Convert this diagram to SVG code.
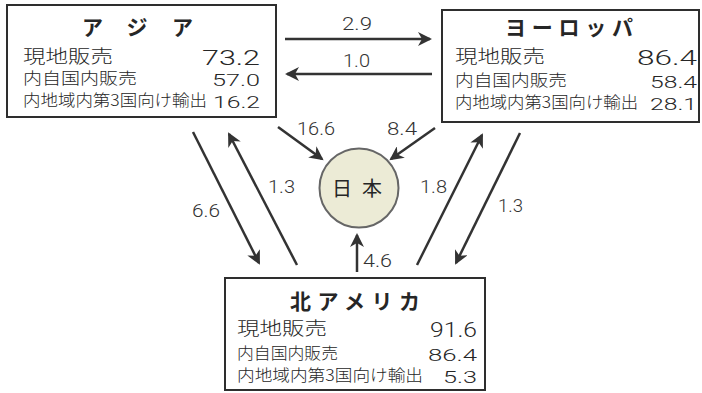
<svg xmlns="http://www.w3.org/2000/svg" width="702" height="393" viewBox="0 0 702 393">
<style>
.box{fill:#ffffff;stroke:#2e2e2e;stroke-width:2}
.t{font-family:"Noto Sans CJK JP","Noto Sans",sans-serif;fill:#262626}
.title{font-size:21px;font-weight:bold}
.r1{font-size:18px;font-weight:300}
.r2{font-size:15.5px;font-weight:300}
.n{font-family:Roboto,"Liberation Sans",sans-serif;font-weight:300;fill:#262626;text-anchor:end}
.num1{font-size:19.5px}
.num2{font-size:17px}
.lbl{font-family:Roboto,"Liberation Sans",sans-serif;font-weight:300;font-size:18px;fill:#333}
.ln{stroke:#333;stroke-width:2.5;fill:none;marker-end:url(#ah)}
</style>
<defs>
<marker id="ah" markerUnits="userSpaceOnUse" markerWidth="16" markerHeight="14" viewBox="0 0 16 14" refX="12" refY="7" orient="auto">
<path d="M0,0 L14,7 L0,14 L4,7 Z" fill="#333"/>
</marker>
</defs>
<rect width="702" height="393" fill="#ffffff"/>

<g id="connectors">
<line class="ln" x1="285" y1="39" x2="430" y2="39"/>
<line class="ln" x1="432" y1="74" x2="287" y2="74"/>
<line class="ln" x1="278" y1="127" x2="322" y2="159"/>
<line class="ln" x1="435" y1="128" x2="391" y2="159"/>
<line class="ln" x1="193" y1="132" x2="259" y2="263"/>
<line class="ln" x1="297" y1="265" x2="229" y2="134"/>
<line class="ln" x1="357" y1="272" x2="357" y2="235"/>
<line class="ln" x1="417" y1="265" x2="482" y2="135"/>
<line class="ln" x1="520" y1="133" x2="456" y2="263"/>
<text class="lbl" x="342" y="30" textLength="30" lengthAdjust="spacingAndGlyphs">2.9</text>
<text class="lbl" x="343" y="67" textLength="27" lengthAdjust="spacingAndGlyphs">1.0</text>
<text class="lbl" x="297" y="135" textLength="38" lengthAdjust="spacingAndGlyphs">16.6</text>
<text class="lbl" x="387" y="135" textLength="30" lengthAdjust="spacingAndGlyphs">8.4</text>
<text class="lbl" x="192" y="217" textLength="28" lengthAdjust="spacingAndGlyphs">6.6</text>
<text class="lbl" x="268" y="193" textLength="27" lengthAdjust="spacingAndGlyphs">1.3</text>
<text class="lbl" x="363" y="267" textLength="29" lengthAdjust="spacingAndGlyphs">4.6</text>
<text class="lbl" x="420" y="193" textLength="27" lengthAdjust="spacingAndGlyphs">1.8</text>
<text class="lbl" x="498" y="212" textLength="25" lengthAdjust="spacingAndGlyphs">1.3</text>
</g>

<g id="asia">
<rect class="box" x="7" y="5" width="269" height="112"/>
<text class="t title" x="82" y="35" textLength="111" lengthAdjust="spacing">アジア</text>
<text class="t r1" x="23" y="63" textLength="90" lengthAdjust="spacingAndGlyphs">現地販売</text>
<text class="n num1" x="260" y="65" textLength="58" lengthAdjust="spacingAndGlyphs">73.2</text>
<text class="t r2" x="23" y="84" textLength="114" lengthAdjust="spacingAndGlyphs">内自国内販売</text>
<text class="n num2" x="260" y="86" textLength="48" lengthAdjust="spacingAndGlyphs">57.0</text>
<text class="t r2" x="23" y="106" textLength="184" lengthAdjust="spacingAndGlyphs">内地域内第3国向け輸出</text>
<text class="n num2" x="260" y="107.5" textLength="47" lengthAdjust="spacingAndGlyphs">16.2</text>
</g>

<g id="europe">
<rect class="box" x="442" y="10" width="257" height="112"/>
<text class="t title" x="505" y="35" textLength="128" lengthAdjust="spacing">ヨーロッパ</text>
<text class="t r1" x="455" y="63" textLength="90" lengthAdjust="spacingAndGlyphs">現地販売</text>
<text class="n num1" x="697" y="65" textLength="60" lengthAdjust="spacingAndGlyphs">86.4</text>
<text class="t r2" x="455" y="86" textLength="112" lengthAdjust="spacingAndGlyphs">内自国内販売</text>
<text class="n num2" x="697" y="87.5" textLength="47" lengthAdjust="spacingAndGlyphs">58.4</text>
<text class="t r2" x="455" y="108" textLength="183" lengthAdjust="spacingAndGlyphs">内地域内第3国向け輸出</text>
<text class="n num2" x="697" y="110" textLength="47" lengthAdjust="spacingAndGlyphs">28.1</text>
</g>

<g id="north-america">
<rect class="box" x="225" y="278" width="260" height="112"/>
<text class="t title" x="290" y="309" textLength="130" lengthAdjust="spacing">北アメリカ</text>
<text class="t r1" x="237" y="335" textLength="90" lengthAdjust="spacingAndGlyphs">現地販売</text>
<text class="n num1" x="477" y="337" textLength="47" lengthAdjust="spacingAndGlyphs">91.6</text>
<text class="t r2" x="237" y="359" textLength="101" lengthAdjust="spacingAndGlyphs">内自国内販売</text>
<text class="n num2" x="477" y="360.5" textLength="49" lengthAdjust="spacingAndGlyphs">86.4</text>
<text class="t r2" x="237" y="381" textLength="186" lengthAdjust="spacingAndGlyphs">内地域内第3国向け輸出</text>
<text class="n num2" x="477" y="382.5" textLength="34" lengthAdjust="spacingAndGlyphs">5.3</text>
</g>

<g id="japan">
<circle cx="359" cy="188" r="39.5" fill="#ecebd6" stroke="#666" stroke-width="2"/>
<text class="t" x="357" y="196" font-size="20" text-anchor="middle" fill="#333" textLength="50" lengthAdjust="spacing">日本</text>
</g>
</svg>
